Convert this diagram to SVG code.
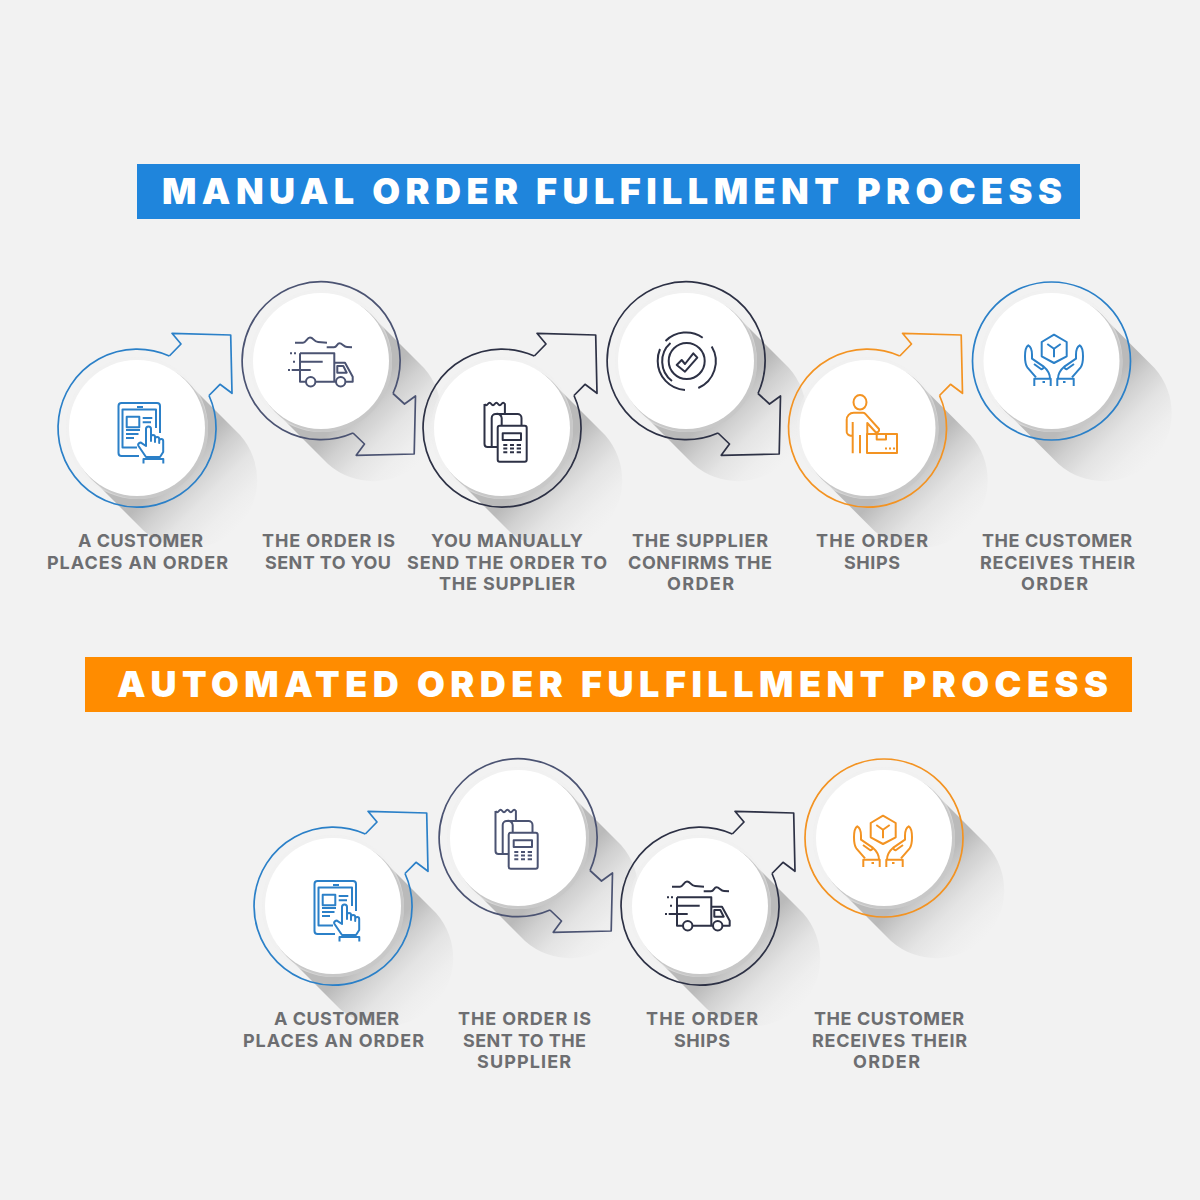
<svg xmlns="http://www.w3.org/2000/svg" xmlns:xlink="http://www.w3.org/1999/xlink" width="1200" height="1200" viewBox="0 0 1200 1200">
<style>
.blue{color:#2b80c8}.slate{color:#4b5372}.dark{color:#2d3145}.orange{color:#f39322}
.ln{fill:none;stroke:currentColor;stroke-width:1.7;stroke-linejoin:round}
.ic{fill:none;stroke:currentColor;stroke-width:2;stroke-linejoin:round}
.lb{font-family:"Inter","Liberation Sans",sans-serif;font-weight:700;font-size:18px;fill:#6d6e71}
.tt{font-family:"Inter","Liberation Sans",sans-serif;font-weight:900;font-size:36px;fill:#fff}
</style>
<defs>
<linearGradient id="sh" x1="0" y1="0" x2="1" y2="1">
<stop offset="0.52" stop-color="#bababa"/>
<stop offset="0.6" stop-color="#d0d0d0"/>
<stop offset="0.7" stop-color="#e4e4e4"/>
<stop offset="0.8" stop-color="#eeeeee"/>
<stop offset="0.88" stop-color="#f2f2f2"/>
</linearGradient>
<g id="disc">
<path d="M48,-48 L103,7 A68 68 0 0 1 7,103 L-48,48 Z" fill="url(#sh)"/>
<circle r="71" fill="#efefef" fill-opacity="0.5"/>
<circle cx="2.5" cy="2.5" r="68.5" fill="#c8c8c8"/>
<circle r="68" fill="#fff"/>
</g>
<path id="ringUp" class="ln" d="M32.3,-72 A79 79 0 1 0 72,-32.5"/>
<path id="ringDown" class="ln" d="M72,32.5 A79 79 0 1 0 32,72"/>
<path id="arrowUp" class="ln" d="M32.3,-72 L44,-84 L35,-94.7 L93.7,-93 L95,-34.7 L83,-43.7 L72,-32.5"/>
<path id="arrowDown" class="ln" d="M72,32.5 L83.5,43 L94.5,35 L93.2,93 L35.2,94.3 L43.5,83 L32,72"/>
<g id="iTablet" class="ic">
<path d="M160,433 V406 a3,3 0 0 0 -3,-3 H121.5 a3,3 0 0 0 -3,3 V453 a3,3 0 0 0 3,3 H139"/>
<path d="M156,428 V409.5 H122.5 V447.5 H137"/>
<path d="M137,407 H143 M142.7,418 H152.3 M142.7,422.3 H151 M126,430 H140 M126,434 H138.5 M126,438 H134"/>
<rect x="126.7" y="416.7" width="12.6" height="10.6"/>
<path d="M146,446 V429 a2.5,2.5 0 0 1 5,0 V441 V437 a2,2 0 0 1 4,0 V442 V439 a2,2 0 0 1 4.2,0 V443 V441 a2,2 0 0 1 4,0 V452 L160,457 H146 L138.5,446 a2.2,2.2 0 0 1 3.5,-2.6 Z"/>
<path d="M143.5,463.5 V459 H163.3 V463.5"/>
</g>
<g id="iTruck" class="ic">
<path d="M295,342.7 H303 C306,342.7 307,337.5 310,337.5 C313.5,337.5 314,342 318,342 L327,342.7 M326.7,347.3 H334 C337,347.3 337,343.3 339.5,343.3 C342.5,343.3 343.5,347 347,347 L352,347.3"/>
<path d="M300,353.3 H334.3 V381.7 M300,353.3 V381.7 H306 M315.4,381.7 H336 M334.3,362.7 H345 L352.7,376.7 V381.7 H345.4"/>
<path d="M337.3,366 H343.3 L346.7,372.7 H337.3 Z"/>
<circle cx="310.7" cy="381.7" r="4.7"/><circle cx="340.7" cy="381.7" r="4.7"/>
<path d="M300,361.7 H322.7 M291.7,370 H310.7 M290,353.3 H292 M294,353.3 H296 M293,361.7 H295 M288,370 H290"/>
</g>
<g id="iReceipt" class="ic">
<path d="M484.5,404 V444 a3,3 0 0 0 3,3 H497 M484.5,404 q1.7,2.5 3.4,0 t3.4,0 t3.4,0 t3.4,0 t3.4,0 t3.4,0 V413"/>
<path d="M491.7,447 V418 a4,4 0 0 1 4,-4 H517.5 a4,4 0 0 1 4,4 V425.7 M496,414 a4.5,4.5 0 0 1 5.7,4 V425.7"/>
<rect x="497.7" y="425.7" width="29" height="36" rx="2"/>
<rect x="502.7" y="433.3" width="18.3" height="6.7"/>
<path d="M503.3,445 H507.3 M510,445 H514 M516.7,445 H521 M503.3,448.6 H507.3 M510,448.6 H514 M516.7,448.6 H521 M503.3,452.3 H507.3 M510,452.3 H514 M516.7,452.3 H521"/>
</g>
<g id="iCheck" class="ic">
<circle cx="686.7" cy="361" r="18"/>
<path d="M665.5,341 A29 29 0 0 1 702.7,337.7 M711.7,346.5 A29 29 0 0 1 698.3,388 M685,390 A29 29 0 0 1 657.7,361 A29 29 0 0 1 660,349 M670.5,343 A24.5 24.5 0 0 0 672,381"/>
<path d="M676.7,365 L681.7,360 L685,364 L693.3,353.3 L697.3,357.7 L685,371.7 Z"/>
</g>
<g id="iPerson" class="ic">
<ellipse cx="860" cy="402.3" rx="6.5" ry="7.3"/>
<path d="M846.7,420 a7,7 0 0 1 7,-7.3 H863 a3,3 0 0 1 2.6,1.5 L879,429 a2.5,2.5 0 0 1 -3.5,3 L867.3,423 V434 M846.7,420 V431 a4,4 0 0 0 5,4.5 M852.7,422 V453.3 M860,435 V453.3"/>
<rect x="867" y="434" width="30" height="19"/>
<path d="M876.7,434 V439.5 H886 V434 M885,448.5 H887 M889,448.5 H891 M893,448.5 H895"/>
</g>
<g id="hand"><path d="M1036,377.3 L1027.3,367.3 Q1025,364 1025,356.3 Q1025,347.3 1028.3,345.3 Q1032,347.3 1032,354.7 V358.7 L1043.3,366.3 Q1044,368.7 1041.3,369.3 L1034,364 M1043.3,366.3 Q1050,372 1050,378.7"/><path d="M1034.3,386 V378.7 H1050.7 V386 M1042.5,382 H1045"/></g>
<g id="iHands" class="ic">
<path d="M1054,334.7 L1066.7,342 V356.3 L1054,363 L1041.7,356.3 V342 Z M1047.3,344 L1054,348.7 L1060.7,344 M1054,348.7 V357.3"/>
<use href="#hand"/><use href="#hand" transform="translate(2108,0) scale(-1,1)"/>
</g>
</defs>
<rect width="1200" height="1200" fill="#f2f2f2"/>
<g id="title-manual"><rect x="137" y="164" width="943" height="55" fill="#1f85dc"/><text class="tt" x="162" y="204" textLength="900" lengthAdjust="spacing">MANUAL ORDER FULFILLMENT PROCESS</text></g>
<g id="m1" class="blue"><use href="#disc" transform="translate(137,428)"/><use href="#ringUp" transform="translate(137,428)"/><use href="#iTablet"/><text class="lb"><tspan x="78" y="547" textLength="125">A CUSTOMER</tspan><tspan x="47" y="569" textLength="181">PLACES AN ORDER</tspan></text></g>
<g id="m2" class="slate"><use href="#disc" transform="translate(321,361)"/><use href="#ringDown" transform="translate(321,361)"/><use href="#iTruck"/><text class="lb"><tspan x="262" y="547" textLength="133">THE ORDER IS</tspan><tspan x="265" y="569" textLength="126">SENT TO YOU</tspan></text></g>
<g id="m3" class="dark"><use href="#disc" transform="translate(502,428)"/><use href="#ringUp" transform="translate(502,428)"/><use href="#iReceipt"/><text class="lb"><tspan x="431" y="547" textLength="152">YOU MANUALLY</tspan><tspan x="407" y="569" textLength="200">SEND THE ORDER TO</tspan><tspan x="439" y="590" textLength="136">THE SUPPLIER</tspan></text></g>
<g id="m4" class="dark"><use href="#disc" transform="translate(686,361)"/><use href="#ringDown" transform="translate(686,361)"/><use href="#iCheck"/><text class="lb"><tspan x="632" y="547" textLength="136">THE SUPPLIER</tspan><tspan x="628" y="569" textLength="144">CONFIRMS THE</tspan><tspan x="667" y="590" textLength="67">ORDER</tspan></text></g>
<g id="m5" class="orange"><use href="#disc" transform="translate(867.5,428)"/><use href="#ringUp" transform="translate(867.5,428)"/><use href="#iPerson"/><text class="lb"><tspan x="816" y="547" textLength="112">THE ORDER</tspan><tspan x="844" y="569" textLength="56">SHIPS</tspan></text></g>
<g id="m6" class="blue"><use href="#disc" transform="translate(1051.5,361)"/><circle class="ln" cx="1051.5" cy="361" r="79"/><use href="#iHands"/><text class="lb"><tspan x="982" y="547" textLength="150">THE CUSTOMER</tspan><tspan x="980" y="569" textLength="155">RECEIVES THEIR</tspan><tspan x="1021" y="590" textLength="67">ORDER</tspan></text></g>
<g id="title-automated"><rect x="85" y="657" width="1047" height="55" fill="#ff8c00"/><text class="tt" x="117" y="697" textLength="991" lengthAdjust="spacing">AUTOMATED ORDER FULFILLMENT PROCESS</text></g>
<g id="a1" class="blue"><use href="#disc" transform="translate(333,906)"/><use href="#ringUp" transform="translate(333,906)"/><use href="#iTablet" transform="translate(196,478)"/><text class="lb"><tspan x="274" y="1025" textLength="125">A CUSTOMER</tspan><tspan x="243" y="1047" textLength="181">PLACES AN ORDER</tspan></text></g>
<g id="a2" class="slate"><use href="#disc" transform="translate(518,838)"/><use href="#ringDown" transform="translate(518,838)"/><use href="#iReceipt" transform="translate(11,407)"/><text class="lb"><tspan x="458" y="1025" textLength="133">THE ORDER IS</tspan><tspan x="463" y="1047" textLength="123">SENT TO THE</tspan><tspan x="477" y="1068" textLength="94">SUPPLIER</tspan></text></g>
<g id="a3" class="dark"><use href="#disc" transform="translate(700,906)"/><use href="#ringUp" transform="translate(700,906)"/><use href="#iTruck" transform="translate(377,544)"/><text class="lb"><tspan x="646" y="1025" textLength="112">THE ORDER</tspan><tspan x="674" y="1047" textLength="56">SHIPS</tspan></text></g>
<g id="a4" class="orange"><use href="#disc" transform="translate(884,838)"/><circle class="ln" cx="884" cy="838" r="79"/><use href="#iHands" transform="translate(-171,481)"/><text class="lb"><tspan x="814" y="1025" textLength="150">THE CUSTOMER</tspan><tspan x="812" y="1047" textLength="155">RECEIVES THEIR</tspan><tspan x="853" y="1068" textLength="67">ORDER</tspan></text></g>
<g id="connectors">
<use href="#arrowUp" class="blue" transform="translate(137,428)"/>
<use href="#arrowDown" class="slate" transform="translate(321,361)"/>
<use href="#arrowUp" class="dark" transform="translate(502,428)"/>
<use href="#arrowDown" class="dark" transform="translate(686,361)"/>
<use href="#arrowUp" class="orange" transform="translate(867.5,428)"/>
<use href="#arrowUp" class="blue" transform="translate(333,906)"/>
<use href="#arrowDown" class="slate" transform="translate(518,838)"/>
<use href="#arrowUp" class="dark" transform="translate(700,906)"/>
</g>
</svg>
